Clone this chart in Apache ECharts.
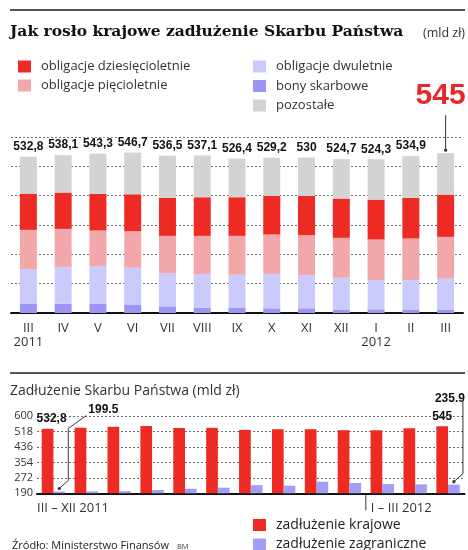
<!DOCTYPE html>
<html>
<head>
<meta charset="utf-8">
<script src="https://cdn.jsdelivr.net/npm/echarts@6/dist/echarts.min.js"></script>
<style>
html, body { margin: 0; padding: 0; background: #fff; }
#chart { width: 468px; height: 550px; }
</style>
</head>
<body>
<div id="chart"></div>
<script>
// months from III 2011 to III 2012
var months = ['III', 'IV', 'V', 'VI', 'VII', 'VIII', 'IX', 'X', 'XI', 'XII', 'I', 'II', 'III']
var years = ['2011', '', '', '', '', '', '', '', '', '', '2012', '', '']
// krajowe zadluzenie, total (mld zl)
var totals = [532.8, 538.1, 543.3, 546.7, 536.5, 537.1, 526.4, 529.2, 530, 524.7, 524.3, 534.9, 545]
// structure of the domestic debt
var bony = [30.6, 31.7, 30.6, 27.2, 22.7, 18.1, 17, 15.9, 15.9, 10.2, 12.5, 10.2, 10.2]
var dwuletnie = [119.1, 124.8, 129.3, 127, 113.3, 114.6, 113.4, 116.8, 113.4, 110, 99.7, 102, 106.6]
var piecioletnie = [133.7, 130.3, 121.3, 124.7, 127, 130.3, 132.6, 134.9, 136, 136, 138.4, 141.8, 142.8]
var dziesiecioletnie = [123.6, 123.6, 124.7, 125.9, 129.3, 131.6, 131.6, 131.4, 133.7, 133.8, 136, 138.3, 144]
var pozostale = [125.8, 127.7, 137.4, 141.9, 144.2, 142.5, 131.8, 130.2, 131, 134.7, 137.7, 142.6, 141.4]
// foreign debt (mld zl)
var zagraniczne = [199.5, 200, 201, 207, 214, 220, 233.5, 230.5, 251.5, 244.5, 239, 237.5, 235.9]
var topTicks = [0, 100, 200, 300, 400, 500, 600]
var bottomTicks = [190, 272, 354, 436, 518, 600]
var periods = ['III – XII 2011', 'I – III 2012']

var RED = '#ee2a25'
var PINK = '#f2a8ab'
var LAVENDER = '#cbcafd'
var BONY = '#9d96f5'
var GRAY = '#d3d3d3'
var FOREIGN = '#a39ef5'
var SANS = '"Open Sans", "DejaVu Sans", sans-serif'
var LABEL_FONT = '"Liberation Sans", Arial, sans-serif'
var last = months.length - 1

function fmt(v) {
    return String(v).replace('.', ',')
}

var dotted = { type: [2, 2], color: '#6f6f6f', width: 1 }

function stackSeries(name, values, color) {
    return {
        name: name,
        type: 'bar',
        stack: 'krajowe',
        xAxisIndex: 0,
        yAxisIndex: 0,
        barWidth: 17,
        itemStyle: { color: color },
        data: values
    }
}

var topSeries = [
    stackSeries('bony skarbowe', bony, BONY),
    stackSeries('obligacje dwuletnie', dwuletnie, LAVENDER),
    stackSeries('obligacje pięcioletnie', piecioletnie, PINK),
    stackSeries('obligacje dziesięcioletnie', dziesiecioletnie, RED),
    stackSeries('pozostałe', pozostale.map(function (v, i) {
        if (i === last) {
            // last month gets the big red total instead of the small one
            return {
                value: v,
                label: {
                    fontSize: 30,
                    color: '#e8282b',
                    distance: 42,
                    offset: [-5, 0],
                    backgroundColor: 'transparent'
                }
            }
        }
        return v
    }), GRAY)
]
topSeries[4].label = {
    show: true,
    position: 'top',
    distance: 4,
    fontFamily: LABEL_FONT,
    fontWeight: 'bold',
    fontSize: 12,
    color: '#111',
    backgroundColor: '#fff',
    padding: [0, 1],
    formatter: function (p) {
        return fmt(totals[p.dataIndex])
    }
}

var legendText = { fontSize: 13, color: '#333', padding: [0, 0, 0, 5], fontFamily: SANS }

var option = {
    animation: false,
    backgroundColor: '#fff',
    textStyle: { fontFamily: SANS },
    grid: [
        { left: 11, right: 5, top: 137, height: 176, outerBoundsMode: 'none' },
        { left: 37, right: 3.5, top: 416, height: 77.3, outerBoundsMode: 'none' }
    ],
    legend: [
        {
            left: 13, top: 55, height: 50, orient: 'vertical', icon: 'rect',
            itemWidth: 13, itemHeight: 12, itemGap: 6,
            selectedMode: false,
            textStyle: legendText,
            data: ['obligacje dziesięcioletnie', 'obligacje pięcioletnie']
        },
        {
            left: 248, top: 55, height: 70, orient: 'vertical', icon: 'rect',
            itemWidth: 13, itemHeight: 12, itemGap: 6.5,
            selectedMode: false,
            textStyle: legendText,
            data: ['obligacje dwuletnie', 'bony skarbowe', 'pozostałe']
        },
        {
            left: 248, top: 513, height: 60, orient: 'vertical', icon: 'rect',
            itemWidth: 13, itemHeight: 12, itemGap: 5.5,
            selectedMode: false,
            textStyle: { fontSize: 14, color: '#222', padding: [0, 0, 0, 5], fontFamily: SANS },
            data: ['zadłużenie krajowe', 'zadłużenie zagraniczne']
        }
    ],
    xAxis: [
        {
            type: 'category',
            gridIndex: 0,
            data: months,
            axisLine: { lineStyle: { color: '#111', width: 2 } },
            axisTick: { show: false },
            axisLabel: {
                interval: 0,
                margin: 8,
                fontSize: 13,
                lineHeight: 14,
                color: '#333',
                fontFamily: SANS,
                formatter: function (value, idx) {
                    return years[idx] ? value + '\n' + years[idx] : value
                }
            }
        },
        {
            type: 'category',
            gridIndex: 1,
            data: months,
            axisLine: { lineStyle: { color: '#111', width: 2 } },
            axisTick: { show: false },
            axisLabel: { show: false }
        }
    ],
    yAxis: [
        {
            type: 'value',
            gridIndex: 0,
            min: topTicks[0],
            max: topTicks[topTicks.length - 1],
            interval: topTicks[1] - topTicks[0],
            axisLine: { show: false },
            axisTick: { show: false },
            axisLabel: { show: false },
            splitLine: { lineStyle: dotted }
        },
        {
            type: 'value',
            gridIndex: 1,
            min: bottomTicks[0],
            max: bottomTicks[bottomTicks.length - 1],
            interval: bottomTicks[1] - bottomTicks[0],
            axisLine: { show: false },
            axisTick: { show: false },
            axisLabel: { fontSize: 11, color: '#333', margin: 4, fontFamily: SANS },
            splitLine: { lineStyle: dotted }
        }
    ],
    series: topSeries.concat([
        {
            name: 'zadłużenie krajowe',
            type: 'bar',
            xAxisIndex: 1,
            yAxisIndex: 1,
            barWidth: 11.7,
            barGap: '0%',
            itemStyle: { color: RED },
            label: {
                show: false,
                position: 'top',
                distance: 4,
                fontFamily: LABEL_FONT,
                fontWeight: 'bold',
                fontSize: 12,
                color: '#111',
                formatter: function (p) { return fmt(p.value) }
            },
            data: totals.map(function (v, i) {
                if (i === 0) return { value: v, label: { show: true, offset: [4, 0] } }
                if (i === last) return { value: v, label: { show: true } }
                return v
            })
        },
        {
            name: 'zadłużenie zagraniczne',
            type: 'bar',
            xAxisIndex: 1,
            yAxisIndex: 1,
            barWidth: 11.7,
            barGap: '0%',
            itemStyle: { color: FOREIGN },
            label: {
                show: false,
                position: 'top',
                distance: 4,
                fontFamily: LABEL_FONT,
                fontWeight: 'bold',
                fontSize: 12,
                color: '#111',
                formatter: function (p) { return String(p.value) }
            },
            data: zagraniczne.map(function (v, i) {
                if (i === 0) return { value: v, label: { show: true, offset: [44, -72] } }
                if (i === last) return { value: v, label: { show: true, offset: [-4, -76] } }
                return v
            })
        }
    ])
}

var chart = echarts.init(document.getElementById('chart'), null, { renderer: 'canvas' })
chart.setOption(option)

// annotations: rules, titles, leader lines placed from the axes
function text(x, y, str, size, extra) {
    var style = { text: str, fontSize: size, fontFamily: SANS, fill: '#222', verticalAlign: 'middle', align: 'left' }
    for (var k in extra) style[k] = extra[k]
    return { type: 'text', x: x, y: y, style: style, silent: true }
}

function line(points) {
    return {
        type: 'polyline',
        shape: { points: points },
        style: { stroke: '#333', lineWidth: 1, fill: null },
        silent: true
    }
}

function dot(p) {
    return { type: 'circle', shape: { cx: p[0], cy: p[1], r: 1.6 }, style: { fill: '#333' }, silent: true }
}

var halfBar = 11.7 / 2
var topLast = chart.convertToPixel({ gridIndex: 0 }, [last, totals[last]])
var c0 = chart.convertToPixel({ gridIndex: 1 }, [0, bottomTicks[0]])
var c1 = chart.convertToPixel({ gridIndex: 1 }, [1, bottomTicks[0]])
var c9 = chart.convertToPixel({ gridIndex: 1 }, [9, bottomTicks[0]])
var c10 = chart.convertToPixel({ gridIndex: 1 }, [10, bottomTicks[0]])
var bandW = c1[0] - c0[0]
var base = c0[1]
var f0 = chart.convertToPixel({ gridIndex: 1 }, [0, zagraniczne[0]])
var fL = chart.convertToPixel({ gridIndex: 1 }, [last, zagraniczne[last]])
var f0x = f0[0] + halfBar
var fLx = fL[0] + halfBar
var split = (c9[0] + c10[0]) / 2

var graphics = [
    { type: 'line', shape: { x1: 10, y1: 10, x2: 465, y2: 10 }, style: { stroke: '#555', lineWidth: 2 }, silent: true },
    text(10, 32, 'Jak rosło krajowe zadłużenie Skarbu Państwa', 15.5, {
        fontFamily: '"DejaVu Serif", "Liberation Serif", serif', fontWeight: 'bold', fill: '#111'
    }),
    text(465, 33, '(mld zł)', 12.5, { align: 'right', fill: '#333' }),
    { type: 'line', shape: { x1: 10, y1: 373, x2: 465, y2: 373 }, style: { stroke: '#555', lineWidth: 2 }, silent: true },
    text(10, 391, 'Zadłużenie Skarbu Państwa (mld zł)', 14, { fill: '#333' }),
    // line from the big 545 down to the last bar
    line([[topLast[0], topLast[1] - 38], [topLast[0], topLast[1] - 3]]),
    dot([topLast[0], topLast[1] - 3]),
    // leader to 199.5
    line([[f0x + 27, f0[1] - 76], [f0x + 9, f0[1] - 63], [f0x + 9, f0[1] - 11], [f0x, f0[1] - 3]]),
    dot([f0x, f0[1] - 3]),
    // leader to 235.9
    line([[fLx + 9, fL[1] - 84], [fLx + 9, fL[1] - 11], [fLx, fL[1] - 3]]),
    dot([fLx, fL[1] - 3]),
    // period captions under the lower chart
    text(c0[0] - bandW / 2, base + 15, periods[0], 13, { fill: '#333' }),
    line([[split, base + 1], [split, base + 17]]),
    text(split + 5, base + 15, periods[1], 13, { fill: '#333' }),
    text(12, 546, 'Źródło: Ministerstwo Finansów', 11, { fill: '#222' }),
    text(177, 547, 'BM', 7.5, { fill: '#444' })
]

chart.setOption({ graphic: graphics })
</script>
</body>
</html>
